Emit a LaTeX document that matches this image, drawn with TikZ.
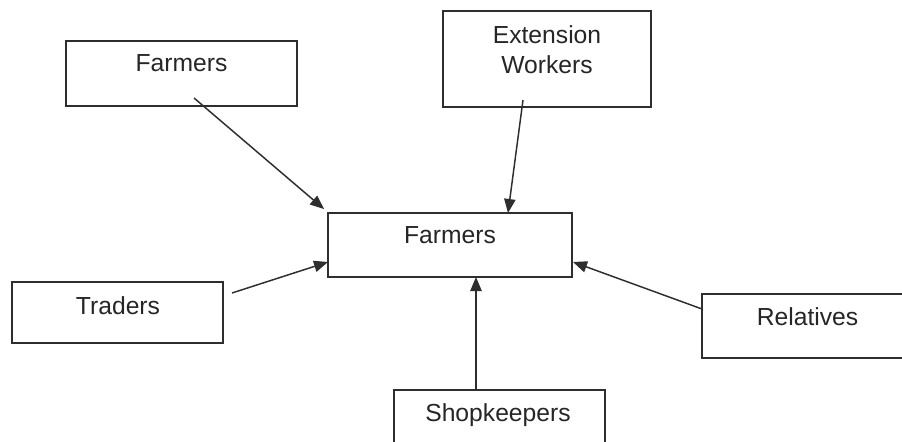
\documentclass[tikz,border=0pt]{standalone}
\usepackage{fontspec}
\setmainfont{Liberation Sans}
\usetikzlibrary{arrows.meta,calc}
\definecolor{ink}{HTML}{2E2E2E}
\begin{document}
\begin{tikzpicture}[x=0.75pt,y=-0.75pt,
  box/.style={draw=ink,line width=1.4pt,rectangle,inner sep=0pt},
  lbl/.style={inner sep=0pt,font=\fontsize{18.5}{22.5}\selectfont,text=black!85,align=center},
  link/.style={draw=ink,line width=1.1pt,-{Triangle[length=10.5pt,width=8.5pt]}}]
  \useasboundingbox (0,0) rectangle (902,442);
  \clip (0,0) rectangle (902,442);
  \fill[white] (0,0) rectangle (902,442);

  % boxes
  \node[box,minimum width=231*0.75pt,minimum height=65*0.75pt] (farmersTop) at (181.5,73.5) {};
  \node[box,minimum width=208*0.75pt,minimum height=96*0.75pt] (ext) at (547,59) {};
  \node[box,minimum width=244*0.75pt,minimum height=64*0.75pt] (hub) at (450,245) {};
  \node[box,minimum width=211*0.75pt,minimum height=61*0.75pt] (traders) at (117.5,312.5) {};
  \node[box,minimum width=211*0.75pt,minimum height=64*0.75pt] (relatives) at (807.5,326) {};
  \node[box,minimum width=211*0.75pt,minimum height=65*0.75pt] (shop) at (499.5,422.5) {};

  % labels near the top of each box
  \node[lbl] (tFarmersTop) at (181.5,63) {Farmers};
  \node[lbl] (tExt) at (547,50) {Extension\\Workers};
  \node[lbl] (tHub) at (450,235) {Farmers};
  \node[lbl] (tTraders) at (118,306) {Traders};
  \node[lbl] (tRelatives) at (807.5,317) {Relatives};
  \node[lbl] (tShop) at (498,415) {Shopkeepers};

  % connector start points
  \coordinate (sFarmers) at (194,98);
  \coordinate (sExt) at (523,100);
  \coordinate (sTraders) at (232,293);
  \coordinate (sRelatives) at (702,309);
  \coordinate (sShop) at (476,390);

  % connector end points on the central box
  \coordinate (eFarmers) at ($(hub.north west)+(-3,-3)$);
  \coordinate (eExt) at (508,213);
  \coordinate (eTraders) at (328,262);
  \coordinate (eRelatives) at (573,262);
  \coordinate (eShop) at (476,277);

  \draw[link] (sFarmers) -- (eFarmers);
  \draw[link] (sExt) -- (eExt);
  \draw[link] (sTraders) -- (eTraders);
  \draw[link] (sRelatives) -- (eRelatives);
  \draw[link] (sShop) -- (eShop);
\end{tikzpicture}
\end{document}
